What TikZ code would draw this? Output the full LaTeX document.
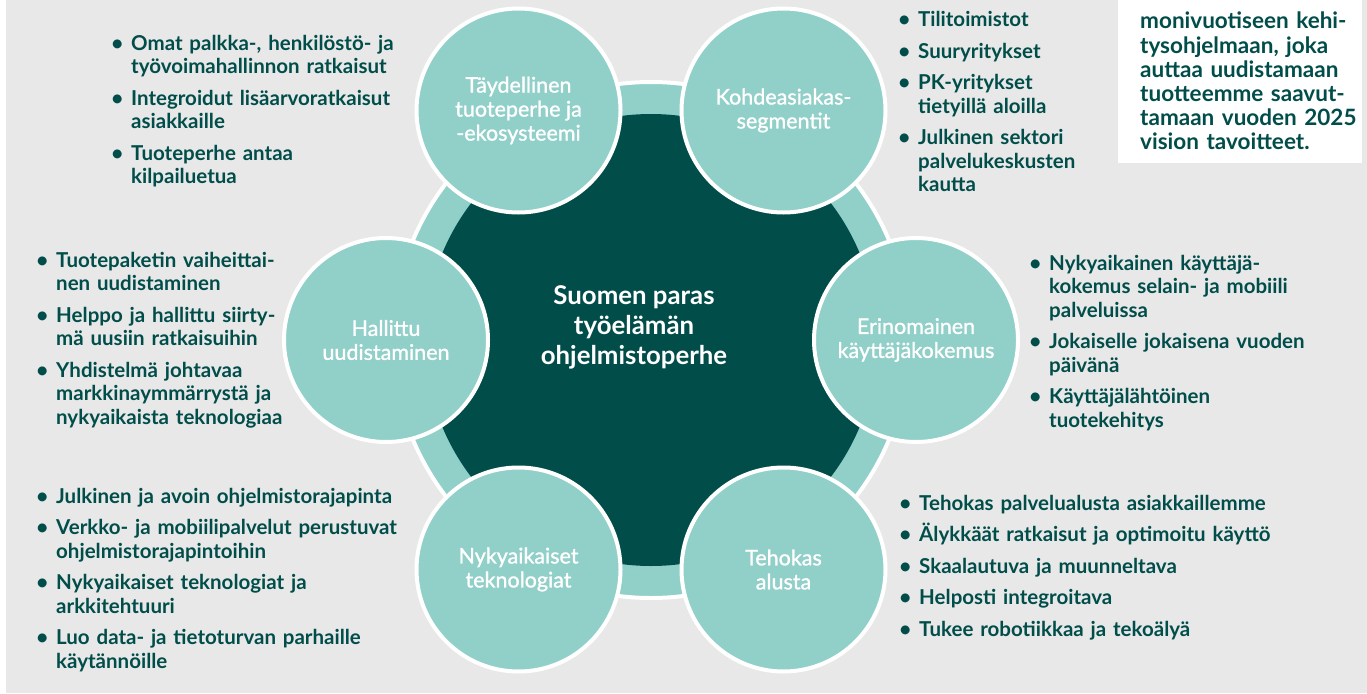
\documentclass[tikz,border=0pt]{standalone}
\usepackage{fontspec}
\setmainfont{Lato}
\newfontfamily\themefont[FakeBold=1.2]{Lato}
\usepackage{enumitem}
\usetikzlibrary{positioning,calc}
\definecolor{deep}{RGB}{0,77,74}
\definecolor{mint}{RGB}{145,207,201}
\definecolor{paper}{RGB}{232,232,232}
\setlist[itemize]{
  label = \textbullet,
  leftmargin = 14pt,
  labelsep = 8pt,
  itemsep = 8pt,
  parsep = 0pt,
  topsep = 0pt,
  partopsep = 0pt,
}
\tikzset{%
  ring/.style = {
    circle,
    fill = mint,
    draw = white,
    line width = 4pt,
    minimum size = 516pt,
    inner sep = 0pt,
  },
  core/.style = {
    circle,
    fill = deep,
    minimum size = 452pt,
    inner sep = 0pt,
  },
  bubble/.style = {
    circle,
    fill = mint,
    draw = white,
    line width = 4pt,
    minimum size = 204pt,
    inner sep = 0pt,
  },
  bubbletext/.style = {
    text = white,
    align = center,
    inner sep = 0pt,
    font = \fontsize{21.5}{24}\themefont,
  },
  points/.style = {
    anchor = base west,
    text width = 420pt,
    align = left,
    inner sep = 0pt,
    text = deep,
    font = \fontsize{20.5}{23.5}\selectfont\bfseries,
  },
}

\begin{document}
\begin{tikzpicture}[x=1pt, y=-1pt]
  \useasboundingbox (0,0) rectangle (1367,693);
  \fill[paper] (6,0) rectangle (1367,693);
  \fill[white] (1118,0) rectangle (1362,163);
  \node[anchor=base west, inner sep=0pt, text width=222pt, align=left, text=deep,
        font=\fontsize{22.5}{24.2}\selectfont\bfseries] (note) at (1140,29)
    {monivuotiseen kehi-\\tysohjelmaan, joka\\auttaa uudistamaan\\tuotteemme saavut-\\tamaan vuoden 2025\\vision tavoitteet.};

  % hub and its ring
  \node[ring] (hub) at (651,340) {};
  \node[core] (heart) at (hub) {};
  \node[text=white, align=center, inner sep=0pt,
        font=\fontsize{25.8}{30}\selectfont\bfseries] (vision) at (634,327)
    {Suomen paras\\työelämän\\ohjelmistoperhe};

  % six themes round the hub
  \foreach \name/\ang/\txt in {
      ecosystem/-120/{Täydellinen\\tuoteperhe ja\\-ekosysteemi},
      segments/-60/{Kohdeasiakas-\\segmentit},
      experience/0/{Erinomainen\\käyttäjäkokemus},
      platform/60/{Tehokas\\alusta},
      technology/120/{Nykyaikaiset\\teknologiat},
      renewal/180/{Hallittu\\uudistaminen}} {
    \node[bubble] (\name) at ($(hub)+(\ang:265)$) {};
    \node[bubbletext] (\name-label) at (\name) {\txt};
  }

  % lists
  \node[points] (ecosystem-list) at (117,27) {%
    \begin{itemize}
      \item Omat palkka-, henkilöstö- ja\\työvoimahallinnon ratkaisut
      \item Integroidut lisäarvoratkaisut\\asiakkaille
      \item Tuoteperhe antaa\\kilpailuetua
    \end{itemize}};
  \node[points] (segments-list) at (904,3.5) {%
    \begin{itemize}
      \item Tilitoimistot
      \item Suuryritykset
      \item PK-yritykset\\tietyillä aloilla
      \item Julkinen sektori\\palvelukeskusten\\kautta
    \end{itemize}};
  \node[points] (experience-list) at (1035,246.5) {%
    \begin{itemize}
      \item Nykyaikainen käyttäjä-\\kokemus selain- ja mobiili\\palveluissa
      \item Jokaiselle jokaisena vuoden\\päivänä
      \item Käyttäjälähtöinen\\tuotekehitys
    \end{itemize}};
  \node[points] (renewal-list) at (42,243.5) {%
    \begin{itemize}
      \item Tuotepaketin vaiheittai-\\nen uudistaminen
      \item Helppo ja hallittu siirty-\\mä uusiin ratkaisuihin
      \item Yhdistelmä johtavaa\\markkinaymmärrystä ja\\nykyaikaista teknologiaa
    \end{itemize}};
  \node[points] (technology-list) at (42,479.5) {%
    \begin{itemize}
      \item Julkinen ja avoin ohjelmistorajapinta
      \item Verkko- ja mobiilipalvelut perustuvat\\ohjelmistorajapintoihin
      \item Nykyaikaiset teknologiat ja\\arkkitehtuuri
      \item Luo data- ja tietoturvan parhaille\\käytännöille
    \end{itemize}};
  \node[points] (platform-list) at (905,486.5) {%
    \begin{itemize}
      \item Tehokas palvelualusta asiakkaillemme
      \item Älykkäät ratkaisut ja optimoitu käyttö
      \item Skaalautuva ja muunneltava
      \item Helposti integroitava
      \item Tukee robotiikkaa ja tekoälyä
    \end{itemize}};
\end{tikzpicture}
\end{document}
